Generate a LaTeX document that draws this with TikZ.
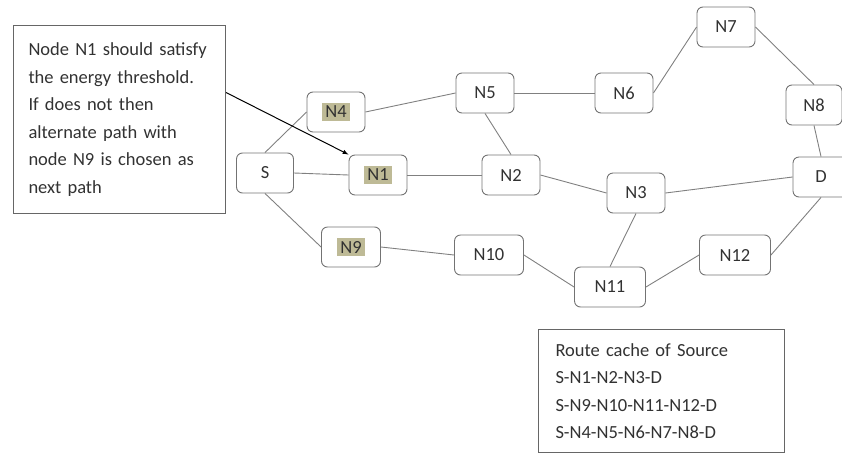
\documentclass[tikz,border=0pt]{standalone}
\usepackage{fontspec}
\setmainfont{Carlito}
\definecolor{hilite}{RGB}{190,186,150}
\definecolor{ink}{RGB}{50,50,50}
\newcommand{\hlt}[1]{{\setlength{\fboxsep}{3pt}\colorbox{hilite}{#1}}}

\begin{document}
\begin{tikzpicture}[x=1pt,y=-1pt,
  nd/.style={draw=black!55,line width=0.9pt,rounded corners=6pt,minimum width=58pt,minimum height=40pt,inner sep=0pt,text=ink,font=\fontsize{18.5}{22}\selectfont},
  link/.style={draw=black!50,line width=0.9pt},
  note/.style={draw=black!60,line width=1pt,anchor=north west,align=left,text=ink,font=\fontsize{18.5}{27.5}\selectfont}]
\useasboundingbox (0,0) rectangle (842,453);
\node[nd,minimum width=57pt] (S) at (265,173) {S};
\node[nd] (N1) at (378,175) {\hlt{N1}};
\node[nd] (N4) at (336,112) {\hlt{N4}};
\node[nd,minimum width=59pt] (N9) at (351,247) {\hlt{N9}};
\node[nd] (N5) at (485,93) {N5};
\node[nd] (N2) at (511,175) {N2};
\node[nd,minimum width=69pt] (N10) at (489,255) {N10};
\node[nd] (N6) at (624,93) {N6};
\node[nd] (N7) at (726,27) {N7};
\node[nd,minimum width=56pt] (N8) at (814,105) {N8};
\node[nd,minimum width=56pt] (D) at (821,177) {D};
\node[nd] (N3) at (636,193) {N3};
\node[nd,minimum width=71pt] (N11) at (610,287) {N11};
\node[nd,minimum width=71pt] (N12) at (735,255) {N12};
\foreach \a/\b in {S.north/N4.west,S.east/N1.west,S.south/N9.west,N4.east/N5.west,
  N5.east/N6.west,N6.east/N7.west,N7.east/N8.north,N8.south/D.north,N5.south/N2.north,
  N1.east/N2.west,N2.east/N3.west,N3.east/D.west,N3.south/N11.north,N9.east/N10.west,
  N10.east/N11.west,N11.east/N12.west,N12.east/D.south}
  \draw[link] (\a) -- (\b);
% notes
\node[note,text width=182pt,inner xsep=15pt,minimum height=188pt] (tb) at (13,25)
  {Node N1 should satisfy\\the energy threshold.\\If does not then\\alternate path with\\node N9 is chosen as\\next path};
\node[note,text width=212pt,inner xsep=17pt,minimum height=123pt] (rc) at (538,329)
  {Route cache of Source\\S-N1-N2-N3-D\\S-N9-N10-N11-N12-D\\S-N4-N5-N6-N7-N8-D};
\draw[-latex,line width=1pt] ([yshift=27pt]tb.east) -- (N1.north west);
\end{tikzpicture}
\end{document}
